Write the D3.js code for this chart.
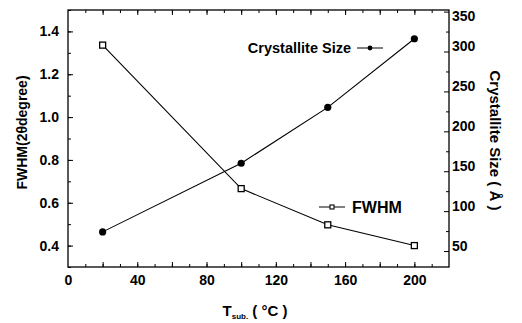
<!DOCTYPE html>
<html>
<head>
<meta charset="utf-8">
<script src="https://cdn.jsdelivr.net/npm/d3@7"></script>
<style>
  body { margin: 0; background: #fff; }
  text { font-family: "Liberation Sans", Arial, sans-serif; font-weight: bold; fill: #000; }
</style>
</head>
<body>
<svg id="chart" width="522" height="323"></svg>
<script>
// values
var temps = [20, 100, 150, 200];
var fwhm = [1.336, 0.666, 0.497, 0.40];
var crystSize = [74, 160, 230, 316];
var xTicks = [0, 40, 80, 120, 160, 200];
var leftTicks = [0.4, 0.6, 0.8, 1.0, 1.2, 1.4];
var rightTicks = [50, 100, 150, 200, 250, 300, 350];

var margin = {top: 10, right: 73, bottom: 56, left: 68};
var W = 522, H = 323;
var svg = d3.select('#chart');

var x = d3.scaleLinear().domain([0, 220]).range([margin.left, W - margin.right]);
var yL = d3.scaleLinear().domain([0.3, 1.5]).range([H - margin.bottom, margin.top]);
var yR = d3.scaleLinear().domain([30, 352]).range([H - margin.bottom, margin.top]);

var fmt1 = d3.format('.1f');

var drawTicks = function(axis) {
    return function(g) {
        g.call(axis);
        g.select('.domain').remove();
        g.selectAll('line').attr('stroke', '#000').attr('stroke-width', 1);
        g.selectAll('text').attr('font-size', 14);
    };
};

// minor ticks (no labels)
var minor = function(axis) {
    return function(g) {
        g.call(axis.tickFormat(''));
        g.select('.domain').remove();
        g.selectAll('line').attr('stroke', '#000');
    };
};

var bottomY = H - margin.bottom, topY = margin.top;
var leftX = margin.left, rightX = W - margin.right;

svg.append('g').attr('transform', 'translate(0,' + bottomY + ')')
    .call(minor(d3.axisBottom(x).tickValues(d3.range(10, 220, 10)).tickSize(-3)));
svg.append('g').attr('transform', 'translate(0,' + bottomY + ')')
    .call(minor(d3.axisBottom(x).tickValues(d3.range(20, 220, 20)).tickSize(-5)));
svg.append('g').attr('transform', 'translate(0,' + bottomY + ')')
    .call(drawTicks(d3.axisBottom(x).tickValues(xTicks).tickSize(0).tickPadding(8)));
svg.append('g').attr('transform', 'translate(0,' + topY + ')')
    .call(minor(d3.axisTop(x).tickValues(d3.range(10, 220, 10)).tickSize(-3)));
svg.append('g').attr('transform', 'translate(0,' + topY + ')')
    .call(minor(d3.axisTop(x).tickValues(d3.range(20, 220, 20)).tickSize(-5)));

svg.append('g').attr('transform', 'translate(' + leftX + ',0)')
    .call(minor(d3.axisLeft(yL).tickValues(d3.range(0.3, 1.51, 0.1)).tickSize(-3)));
svg.append('g').attr('transform', 'translate(' + leftX + ',0)')
    .call(drawTicks(d3.axisLeft(yL).tickValues(leftTicks).tickFormat(fmt1).tickSize(-5).tickPadding(9)));

svg.append('g').attr('transform', 'translate(' + rightX + ',0)')
    .call(minor(d3.axisRight(yR).tickValues(d3.range(75, 352, 50)).tickSize(-3)));
var rAxis = svg.append('g').attr('transform', 'translate(' + rightX + ',0)')
    .call(drawTicks(d3.axisRight(yR).tickValues(rightTicks).tickSize(-5).tickPadding(3)));
// the scanned labels sit a little above their ticks; keep the top one inside the page
rAxis.selectAll('text').attr('dy', function(d) { return d === 350 ? '0.6em' : '-0.05em'; });

// frame
svg.append('rect')
    .attr('x', leftX).attr('y', topY)
    .attr('width', rightX - leftX).attr('height', bottomY - topY)
    .attr('fill', 'none').attr('stroke', '#000').attr('stroke-width', 1.3);

var fwhmData = temps.map(function(t, i) { return {t: t, v: fwhm[i]}; });
var sizeData = temps.map(function(t, i) { return {t: t, v: crystSize[i]}; });

svg.append('path').datum(fwhmData)
    .attr('fill', 'none').attr('stroke', '#000').attr('stroke-width', 1.1)
    .attr('d', d3.line().x(function(d) { return x(d.t); }).y(function(d) { return yL(d.v); }));
svg.append('path').datum(sizeData)
    .attr('fill', 'none').attr('stroke', '#000').attr('stroke-width', 1.1)
    .attr('d', d3.line().x(function(d) { return x(d.t); }).y(function(d) { return yR(d.v); }));

svg.selectAll('.sq').data(fwhmData).enter().append('rect')
    .attr('class', 'sq')
    .attr('x', function(d) { return x(d.t) - 3; })
    .attr('y', function(d) { return yL(d.v) - 3; })
    .attr('width', 6).attr('height', 6)
    .attr('fill', '#fff').attr('stroke', '#000').attr('stroke-width', 1.3);

svg.selectAll('.dot').data(sizeData).enter().append('circle')
    .attr('class', 'dot')
    .attr('cx', function(d) { return x(d.t); })
    .attr('cy', function(d) { return yR(d.v); })
    .attr('r', 3.6).attr('fill', '#000');

// legends
var lg1 = svg.append('g').attr('transform', 'translate(357,48)');
lg1.append('line').attr('x1', 0).attr('x2', 26).attr('stroke', '#000');
lg1.append('circle').attr('cx', 13).attr('r', 2.4).attr('fill', '#000');
lg1.append('text').attr('x', -6).attr('dy', '0.35em').attr('text-anchor', 'end')
    .attr('font-size', 14.5).text('Crystallite Size');

var lg2 = svg.append('g').attr('transform', 'translate(319,207)');
lg2.append('line').attr('x1', 0).attr('x2', 26).attr('stroke', '#000');
lg2.append('rect').attr('x', 11).attr('y', -2).attr('width', 4).attr('height', 4)
    .attr('fill', '#fff').attr('stroke', '#000').attr('stroke-width', 1.1);
lg2.append('text').attr('x', 33).attr('dy', '0.35em')
    .attr('font-size', 16).text('FWHM');

// axis titles
var xt = svg.append('text').attr('x', 255).attr('y', 316).attr('text-anchor', 'middle')
    .attr('font-size', 15);
xt.append('tspan').text('T');
xt.append('tspan').attr('font-size', 8).attr('dy', 3).text('sub.');
xt.append('tspan').attr('dy', -3).text(' ( °C )');

svg.append('text')
    .attr('transform', 'translate(27,' + ((topY + bottomY) / 2 - 6) + ') rotate(-90)')
    .attr('text-anchor', 'middle').attr('font-size', 14)
    .text('FWHM(2θdegree)');

svg.append('text')
    .attr('transform', 'translate(490,' + ((topY + bottomY) / 2 + 2) + ') rotate(90)')
    .attr('text-anchor', 'middle').attr('font-size', 15)
    .text('Crystallite Size ( Å )');
</script>
</body>
</html>
